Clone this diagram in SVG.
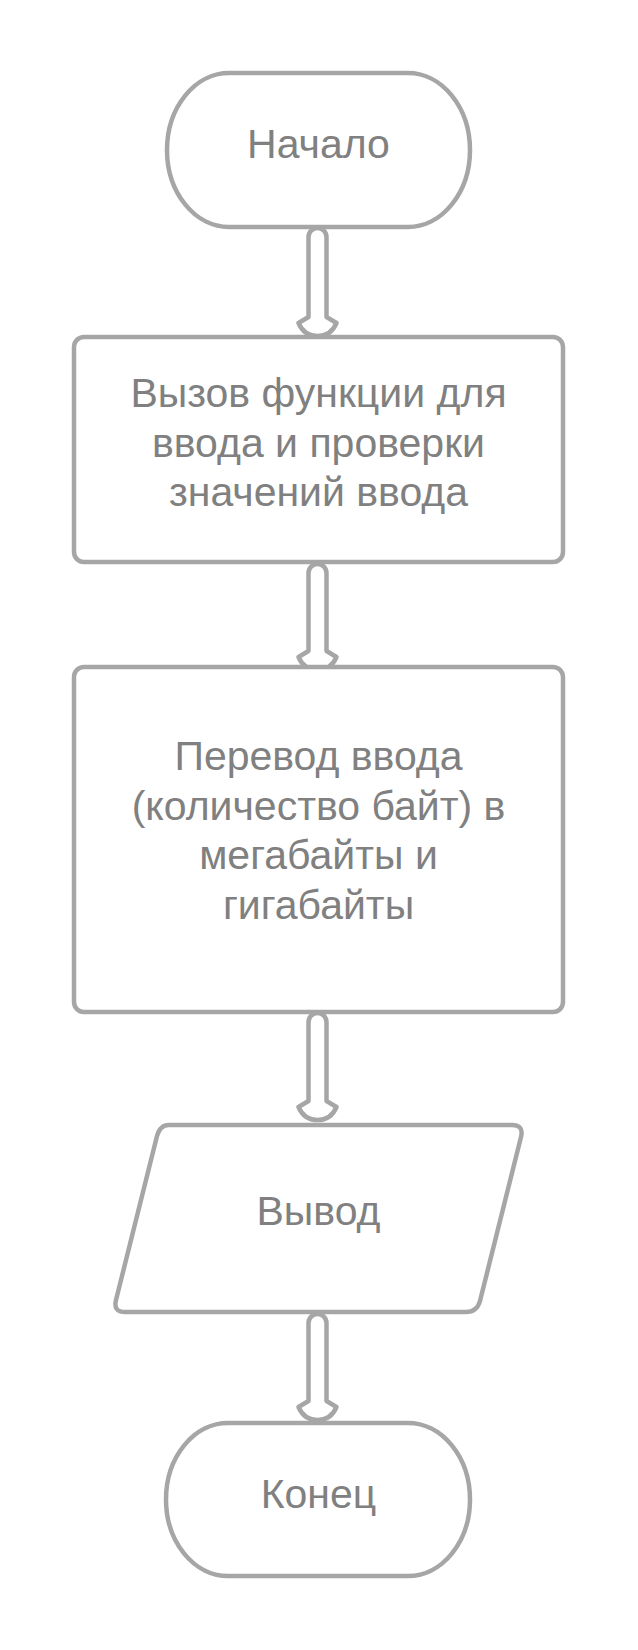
<svg xmlns="http://www.w3.org/2000/svg" width="638" height="1650" viewBox="0 0 638 1650">
<style>
.shape{fill:#ffffff;stroke:#a6a6a6;stroke-width:4.5;stroke-linejoin:round}
.arrow{fill:#ffffff;stroke:#a6a6a6;stroke-width:4.5;stroke-linejoin:round}
.label{font-family:"Liberation Sans",Arial,sans-serif;font-size:41px;fill:#808080;text-anchor:middle}
</style>
<rect width="638" height="1650" fill="#ffffff"/>
<g id="connectors">
<path class="arrow" d="M308.5,317 L308.5,237 A9,9 0 0 1 326.5,237 L326.5,317 L336.5,323 Q331,336 317.5,336 Q304,336 298.5,323 Z"/>
<path class="arrow" d="M308.5,651 L308.5,573 A9,9 0 0 1 326.5,573 L326.5,651 L336.5,657 Q331,670 317.5,670 Q304,670 298.5,657 Z"/>
<path class="arrow" d="M308.5,1101 L308.5,1022 A9,9 0 0 1 326.5,1022 L326.5,1101 L336.5,1107 Q331,1120 317.5,1120 Q304,1120 298.5,1107 Z"/>
<path class="arrow" d="M308.5,1401 L308.5,1323 A9,9 0 0 1 326.5,1323 L326.5,1401 L336.5,1407 Q331,1420 317.5,1420 Q304,1420 298.5,1407 Z"/>
</g>
<g id="start">
<rect class="shape" x="167" y="73" width="303" height="154" rx="62" ry="77"/>
<text class="label" x="318.5" y="158">Начало</text>
</g>
<g id="input">
<rect class="shape" x="74" y="337" width="489" height="225" rx="10" ry="10"/>
<text class="label" x="318.5" y="407">Вызов функции для</text>
<text class="label" x="318.5" y="456.5">ввода и проверки</text>
<text class="label" x="318.5" y="506">значений ввода</text>
</g>
<g id="convert">
<rect class="shape" x="74" y="667" width="489" height="345" rx="10" ry="10"/>
<text class="label" x="318.5" y="770">Перевод ввода</text>
<text class="label" x="318.5" y="819.5">(количество байт) в</text>
<text class="label" x="318.5" y="869">мегабайты и</text>
<text class="label" x="318.5" y="918.5">гигабайты</text>
</g>
<g id="output">
<path class="shape" d="M169,1125 L512,1125 Q524,1125 521,1137 L480,1301 Q477,1312 466,1312 L125,1312 Q113,1312 116,1300 L157,1136 Q160,1125 169,1125 Z"/>
<text class="label" x="318.5" y="1225">Вывод</text>
</g>
<g id="end">
<rect class="shape" x="166" y="1423" width="304" height="153" rx="62" ry="76.5"/>
<text class="label" x="318.5" y="1508">Конец</text>
</g>
</svg>
